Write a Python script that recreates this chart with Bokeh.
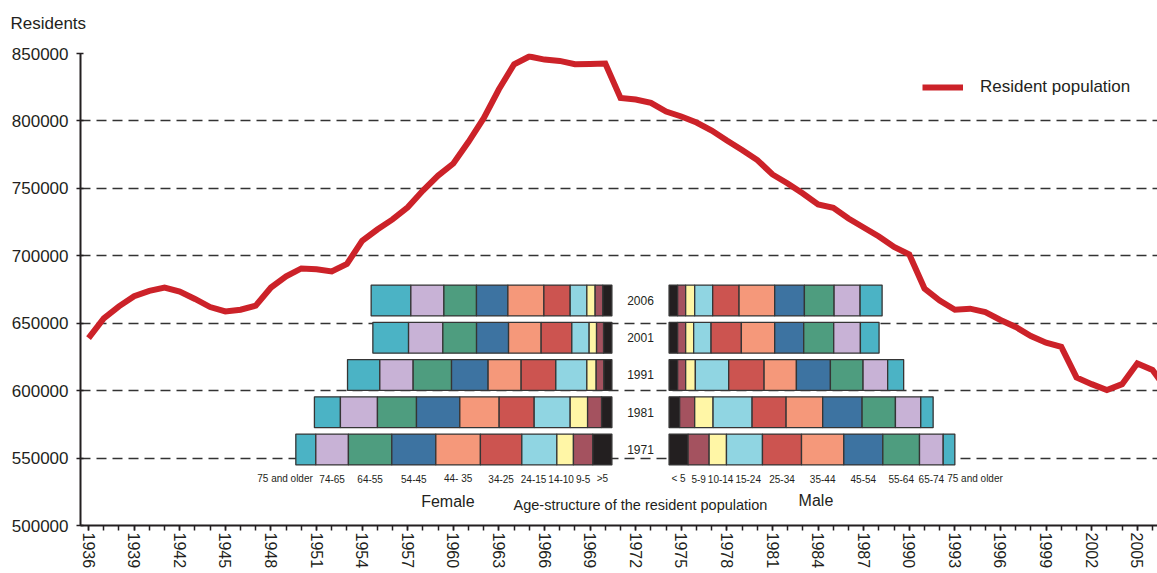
import math
from bokeh.plotting import figure
from bokeh.models import Range1d, FixedTicker, BasicTickFormatter, ColumnDataSource
from bokeh.core.properties import value
from bokeh.embed import file_html
from bokeh.resources import INLINE

# ---------------- data ----------------
years = list(range(1936, 2008))
residents = [
    639000, 653500, 662500, 670000, 674000, 676500, 673500, 668000, 662000, 658700,
    660000, 663000, 676500, 684700, 690600, 690000, 688400, 694000, 711000, 719500,
    727000, 736000, 748400, 759500, 768400, 784500, 802000, 823500, 842000, 847800,
    845500, 844500, 842000, 842300, 842600, 817000, 815900, 813400, 807000, 803300,
    798800, 792900, 785500, 778500, 771000, 760300, 753600, 746200, 738000, 735500,
    727600, 721000, 714300, 706500, 701000, 675700, 666800, 660000, 660800, 658300,
    652400, 647200, 640500, 635500, 632500, 609800, 604800, 600500, 604800, 620100,
    615300, 600000,
]
y_ticks = [500000, 550000, 600000, 650000, 700000, 750000, 800000, 850000]
x_label_years = list(range(1936, 2006, 3))
x_minor_years = list(range(1936, 2007))

inset_years = ["1971", "1981", "1991", "2001", "2006"]
female_groups = ["75 and older", "74-65", "64-55", "54-45", "44- 35", "34-25",
                 "24-15", "14-10", "9-5", ">5"]
male_groups = ["< 5", "5-9", "10-14", "15-24", "25-34", "35-44", "45-54",
               "55-64", "65-74", "75 and older"]

# thousands of residents, female listed oldest -> youngest, male youngest -> oldest
female_1971 = [27.0, 44.0, 58.6, 59.4, 60.2, 55.9, 47.3, 22.4, 26.2, 25.7]
female_1981 = [35.1, 50.0, 52.7, 58.5, 53.1, 47.3, 48.6, 23.5, 18.9, 13.9]
female_1991 = [43.6, 45.0, 51.8, 49.4, 44.6, 46.8, 41.9, 12.6, 10.4, 10.8]
female_2001 = [48.2, 46.3, 45.5, 43.2, 44.0, 41.4, 23.4, 10.0, 9.5, 11.2]
female_2006 = [53.6, 44.6, 44.0, 42.4, 48.6, 35.5, 22.5, 11.2, 10.4, 12.2]

male_1971 = [25.7, 28.4, 23.4, 48.6, 52.7, 57.1, 52.7, 49.5, 32.0, 15.7]
male_1981 = [14.3, 20.3, 24.8, 52.7, 45.9, 49.4, 53.2, 45.0, 34.2, 16.7]
male_1991 = [11.6, 10.8, 13.1, 45.0, 47.8, 43.6, 45.9, 44.1, 33.2, 21.6]
male_2001 = [11.6, 10.8, 10.8, 23.5, 40.9, 45.0, 39.2, 40.5, 36.0, 25.2]
male_2006 = [11.6, 10.8, 12.2, 24.3, 35.6, 48.1, 40.1, 40.1, 35.1, 29.7]

female_rows = [female_1971, female_1981, female_1991, female_2001, female_2006]
male_rows = [male_1971, male_1981, male_1991, male_2001, male_2006]

# ---------------- style ----------------
FONT = "Liberation Sans"
TXT = "#231f20"
RED = "#cc2229"
female_colors = ["#4bb3c5", "#c8b2d6", "#4e9d7f", "#3d73a1", "#f5987a",
                 "#cc5450", "#90d5e2", "#fff6a6", "#a4525f", "#231f20"]
male_colors = list(reversed(female_colors))
GAP = 38.6      # half gap between the two halves of the inset (inset units)
PAD = 34.0      # white margin around the inset bars (inset units)
BAR_H = 0.83
UNITS_PER_PX = 1.35   # inset x units per screen pixel (matches the range below)
AGE_FONT_PX = 10

p = figure(width=1157, height=573,
           x_range=Range1d(1935.47, 2006.33), y_range=Range1d(500000, 850000),
           output_backend="svg", toolbar_location=None,
           min_border_left=80, min_border_right=0,
           min_border_top=53, min_border_bottom=48)
p.extra_x_ranges = {"inset": Range1d(-756, 698)}
p.extra_y_ranges = {"inset": Range1d(-2.04, 10.63)}
p.outline_line_color = None
p.background_fill_color = "white"
p.border_fill_color = "white"

# axes
p.xaxis.ticker = FixedTicker(ticks=x_label_years, minor_ticks=x_minor_years)
p.xaxis.major_label_orientation = -math.pi / 2
p.xaxis.major_label_text_font = FONT
p.xaxis.major_label_text_font_size = "16px"
p.xaxis.major_label_text_color = TXT
p.xaxis.major_label_standoff = 2
p.xaxis.major_tick_out = 5
p.xaxis.major_tick_in = 0
p.xaxis.minor_tick_out = 5
p.xaxis.minor_tick_in = 0
p.yaxis.ticker = FixedTicker(ticks=y_ticks)
p.yaxis.formatter = BasicTickFormatter(use_scientific=False)
p.yaxis.major_label_text_font = FONT
p.yaxis.major_label_text_font_size = "17px"
p.yaxis.major_label_text_color = TXT
p.yaxis.major_label_standoff = 8
p.yaxis.major_tick_out = 4
p.yaxis.major_tick_in = 3
p.yaxis.minor_tick_out = 0
p.yaxis.minor_tick_in = 0
for ax in (p.xaxis, p.yaxis):
    ax.axis_line_color = TXT
    ax.axis_line_width = 2
    ax.major_tick_line_color = TXT
    ax.major_tick_line_width = 1.5
    ax.minor_tick_line_color = TXT
    ax.minor_tick_line_width = 1.5

p.xgrid.grid_line_color = None
p.ygrid.grid_line_color = "#333333"
p.ygrid.grid_line_width = 1.6
p.ygrid.grid_line_dash = "10 6"

# "Residents" caption above the value axis (trailing blank line lifts it up)
p.title.text = "Residents\n"
p.title.text_font = FONT
p.title.text_font_size = "17px"
p.title.text_font_style = "normal"
p.title.text_color = TXT
p.title.align = "left"
p.title.vertical_align = "top"
p.title.offset = -70
p.title.standoff = 0

# ---------------- inset geometry (from data) ----------------
mask = dict(left=[], right=[], bottom=[], top=[])
bars = dict(left=[], right=[], bottom=[], top=[], color=[])
for i, (fv, mv) in enumerate(zip(female_rows, male_rows)):
    right = -GAP
    edges = []
    for v in reversed(fv):
        edges.append((right - v, right))
        right -= v
    edges.reverse()
    for (l, r), c in zip(edges, female_colors):
        bars["left"].append(l); bars["right"].append(r)
        bars["bottom"].append(i - BAR_H / 2); bars["top"].append(i + BAR_H / 2)
        bars["color"].append(c)
    left = GAP
    for v, c in zip(mv, male_colors):
        bars["left"].append(left); bars["right"].append(left + v)
        bars["bottom"].append(i - BAR_H / 2); bars["top"].append(i + BAR_H / 2)
        bars["color"].append(c)
        left += v
    mask["left"].append(-GAP - sum(fv) - PAD)
    mask["right"].append(GAP + sum(mv) + PAD)
    mask["bottom"].append(i - 0.56)
    mask["top"].append(i + 0.56)

p.quad(left="left", right="right", bottom="bottom", top="top",
       source=ColumnDataSource(mask), fill_color="white", line_color=None,
       x_range_name="inset", y_range_name="inset", level="underlay")

# main line
p.line(years, residents, line_color=RED, line_width=6, line_join="miter",
       legend_label="Resident population")

p.quad(left="left", right="right", bottom="bottom", top="top",
       source=ColumnDataSource(bars), fill_color="color", line_color="#353535",
       line_width=1.3, x_range_name="inset", y_range_name="inset")

# year labels of the inset
p.text(x=[0] * len(inset_years), y=list(range(len(inset_years))), text=inset_years,
       x_range_name="inset", y_range_name="inset", text_font=value(FONT),
       text_font_size="12px", text_color=TXT, text_align="center",
       text_baseline="middle")

# ---- age group labels under the 1971 segments, nudged apart if they collide
CHAR_EM = {"-": 0.333, " ": 0.278, "<": 0.584, ">": 0.584, "a": 0.556, "n": 0.556,
           "d": 0.556, "o": 0.556, "l": 0.222, "e": 0.556, "r": 0.333}


def text_w(s):
    return sum(CHAR_EM.get(ch, 0.556) for ch in s) * AGE_FONT_PX * UNITS_PER_PX


MIN_SEP = 2 * UNITS_PER_PX

tmp, r = [], -GAP
for v in reversed(female_1971):
    tmp.append(r - v / 2)
    r -= v
f_cent = list(reversed(tmp))
f_first_right = f_cent[0] + female_1971[0] / 2
for k in range(len(f_cent) - 2, 0, -1):
    limit = f_cent[k + 1] - text_w(female_groups[k + 1]) / 2 - MIN_SEP
    if f_cent[k] + text_w(female_groups[k]) / 2 > limit:
        f_cent[k] = limit - text_w(female_groups[k]) / 2

m_cent, m_left, l = [], [], GAP
for v in male_1971:
    m_cent.append(l + v / 2)
    m_left.append(l)
    l += v
for k in range(1, len(m_cent) - 1):
    limit = m_cent[k - 1] + text_w(male_groups[k - 1]) / 2 + MIN_SEP
    if m_cent[k] - text_w(male_groups[k]) / 2 < limit:
        m_cent[k] = limit + text_w(male_groups[k]) / 2

LAB_Y = -0.78
common = dict(x_range_name="inset", y_range_name="inset",
              text_font=value(FONT), text_font_size=f"{AGE_FONT_PX}px",
              text_color=TXT, text_baseline="middle")
p.text(x=f_cent[1:], y=[LAB_Y] * 9, text=female_groups[1:], text_align="center", **common)
p.text(x=[f_first_right], y=[LAB_Y], text=female_groups[:1], text_align="right",
       x_offset=-3, **common)
p.text(x=m_cent[:-1], y=[LAB_Y] * 9, text=male_groups[:-1], text_align="center", **common)
p.text(x=[m_left[-1]], y=[LAB_Y], text=male_groups[-1:], text_align="left",
       x_offset=4, **common)

f_mid = -GAP - sum(female_1971) / 2
m_mid = GAP + sum(male_1971) / 2
p.text(x=[f_mid, m_mid], y=[-1.40, -1.38], text=["Female", "Male"],
       x_range_name="inset", y_range_name="inset", text_font=value(FONT),
       text_font_size="16px", text_color=TXT, text_align="center",
       text_baseline="middle", x_offset=[-6, 4])
p.text(x=[0], y=[-1.48], text=["Age-structure of the resident population"],
       x_range_name="inset", y_range_name="inset", text_font=value(FONT),
       text_font_size="14.5px", text_color=TXT, text_align="center",
       text_baseline="middle")

# legend
lg = p.legend[0]
lg.location = (842, 428)
lg.padding = 0
lg.margin = 0
lg.spacing = 0
lg.glyph_width = 41
lg.glyph_height = 20
lg.label_height = 20
lg.label_standoff = 17
lg.label_text_font = FONT
lg.label_text_font_size = "17px"
lg.label_text_color = TXT
lg.border_line_color = None
lg.background_fill_alpha = 0

open("out.html", "w").write(file_html(p, INLINE))
